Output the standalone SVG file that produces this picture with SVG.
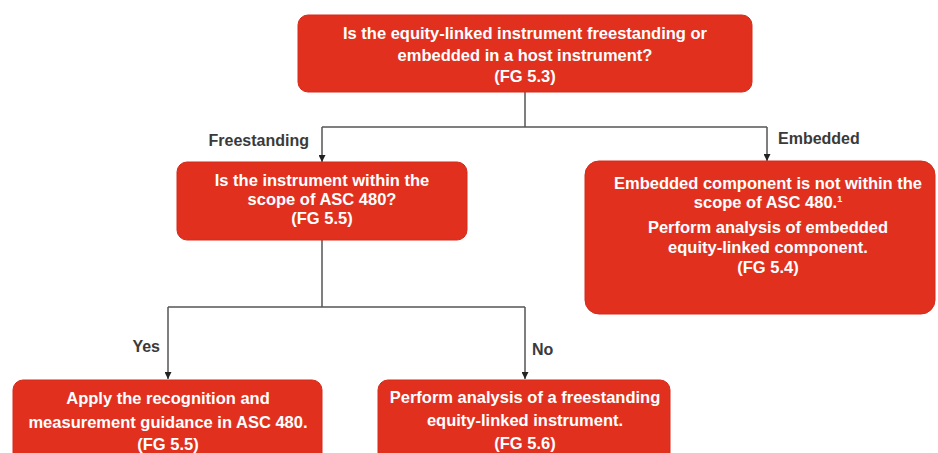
<svg xmlns="http://www.w3.org/2000/svg" width="938" height="453" viewBox="0 0 938 453">
<style>
.box{fill:#e2301f;stroke:#d42a1a;stroke-width:1}
.t{font-family:"Liberation Sans",Arial,sans-serif;font-size:16.5px;font-weight:bold;fill:#fff;text-anchor:middle}
.lbl{font-family:"Liberation Sans",Arial,sans-serif;font-size:16px;font-weight:bold;fill:#3a3a3a}
.c{fill:none;stroke:#555;stroke-width:1.5}
</style>
<defs>
<marker id="ah" viewBox="0 0 10 10" refX="10" refY="5" markerWidth="7" markerHeight="7" markerUnits="userSpaceOnUse" orient="auto">
<path d="M0,0 L10,5 L0,10 z" fill="#222"/>
</marker>
</defs>
<rect width="938" height="453" fill="#fff"/>
<g id="connectors">
<path class="c" d="M525,92 V127"/>
<path class="c" d="M322,127 H767"/>
<path class="c" d="M322,127 V162" marker-end="url(#ah)"/>
<path class="c" d="M767,127 V161" marker-end="url(#ah)"/>
<path class="c" d="M322,240 V307"/>
<path class="c" d="M168,307 H525"/>
<path class="c" d="M168,307 V379" marker-end="url(#ah)"/>
<path class="c" d="M525,307 V379" marker-end="url(#ah)"/>
<text class="lbl" x="309" y="146" text-anchor="end">Freestanding</text>
<text class="lbl" x="778" y="144">Embedded</text>
<text class="lbl" x="160" y="352" text-anchor="end">Yes</text>
<text class="lbl" x="532" y="355">No</text>
</g>
<g id="q1">
<rect class="box" x="298" y="15" width="454" height="77" rx="10"/>
<text class="t" x="525" y="39">Is the equity-linked instrument freestanding or</text>
<text class="t" x="525" y="61">embedded in a host instrument?</text>
<text class="t" x="525" y="82">(FG 5.3)</text>
</g>
<g id="q2">
<rect class="box" x="177" y="162" width="290" height="78" rx="10"/>
<text class="t" x="322" y="186">Is the instrument within the</text>
<text class="t" x="322" y="205">scope of ASC 480?</text>
<text class="t" x="322" y="224">(FG 5.5)</text>
</g>
<g id="embedded">
<rect class="box" x="585" y="161" width="350" height="153" rx="14"/>
<text class="t" x="768" y="189">Embedded component is not within the</text>
<text class="t" x="768" y="208">scope of ASC 480.<tspan font-size="9" dy="-6">1</tspan></text>
<text class="t" x="768" y="233">Perform analysis of embedded</text>
<text class="t" x="768" y="253">equity-linked component.</text>
<text class="t" x="768" y="273">(FG 5.4)</text>
</g>
<g id="yes">
<rect class="box" x="13" y="380" width="309" height="85" rx="10"/>
<text class="t" x="168" y="404">Apply the recognition and</text>
<text class="t" x="168" y="428">measurement guidance in ASC 480.</text>
<text class="t" x="168" y="450">(FG 5.5)</text>
</g>
<g id="no">
<rect class="box" x="378" y="380" width="292" height="85" rx="10"/>
<text class="t" x="525" y="403">Perform analysis of a freestanding</text>
<text class="t" x="525" y="426">equity-linked instrument.</text>
<text class="t" x="525" y="449">(FG 5.6)</text>
</g>
</svg>
